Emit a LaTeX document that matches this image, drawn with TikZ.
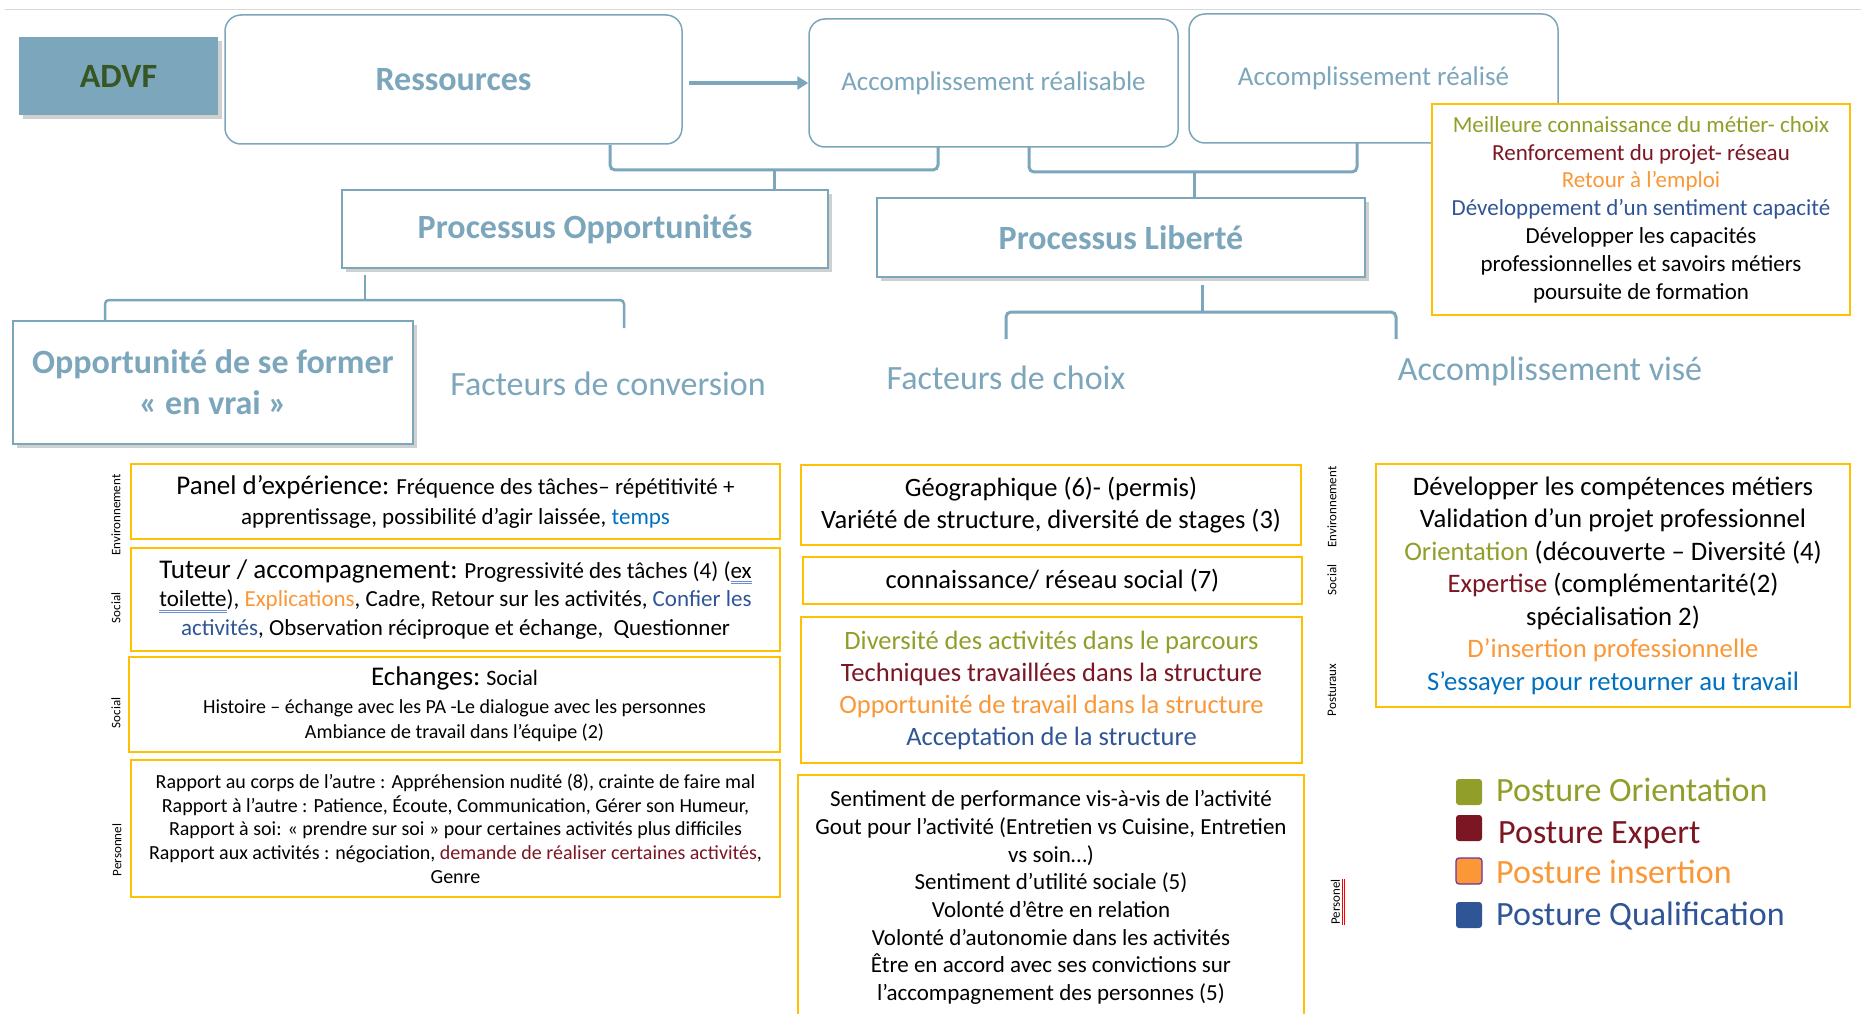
\documentclass[tikz,border=0pt]{standalone}
\usepackage{fontspec}
\setmainfont{Carlito}
\usetikzlibrary{arrows.meta,shadows,calc}
\definecolor{steel}{RGB}{124,166,187}
\definecolor{advfgreen}{RGB}{55,86,35}
\definecolor{gold}{RGB}{255,192,0}
\definecolor{olivec}{RGB}{146,158,42}
\definecolor{dredc}{RGB}{123,22,34}
\definecolor{orangec}{RGB}{250,152,56}
\definecolor{dbluec}{RGB}{47,85,151}
\definecolor{bbluec}{RGB}{0,112,192}
\definecolor{purplec}{RGB}{112,48,160}
\definecolor{splblue}{RGB}{110,140,210}
\definecolor{topline}{RGB}{215,215,215}
\newcommand\fs[2]{\fontsize{#1}{#2}\selectfont}
\newcommand\spl[2][splblue]{\setbox0\hbox{#2}\rlap{\textcolor{#1}{\rule[-3.5pt]{\wd0}{0.8pt}\llap{\rule[-5.5pt]{\wd0}{0.8pt}}}}\box0}
\begin{document}
\begin{tikzpicture}[x=1pt,y=-1pt,
  rbox/.style={draw=steel,line width=1.5,rounded corners=16,inner sep=0},
  sbox/.style={draw=steel,line width=1.5,fill=white,inner sep=0,
    drop shadow={shadow xshift=4pt,shadow yshift=-4pt,opacity=0.3,fill=black!60}},
  ybox/.style={draw=gold,line width=2,fill=white,inner sep=0,align=center},
  brk/.style={draw=steel,line width=3,rounded corners=5},
  brkthin/.style={draw=steel,line width=2.5,rounded corners=4},
  side/.style={rotate=90,font=\fs{13}{15},inner sep=0},
  head/.style={text=steel,font=\fs{34}{40},inner sep=0},
  lsq/.style={minimum size=26,rounded corners=3,inner sep=0},
  ltxt/.style={anchor=base west,font=\fs{34}{40},inner sep=0}]
\useasboundingbox (0,0) rectangle (1861,1014);
\clip (0,0) rectangle (1861,1014);
\fill[white] (0,0) rectangle (1861,1014);
% top line
\coordinate (tla) at (5,9.5);
\coordinate (tlb) at (1861,9.5);
\draw[topline,line width=1.5] (tla) -- (tlb);

% top row
\node[sbox,fill=steel,draw=none,minimum width=199,minimum height=78,
      text=advfgreen,font=\bfseries\fs{34}{40}] (advf) at (118.5,76) {ADVF};
\node[rbox,minimum width=457,minimum height=129,text=steel,
      font=\bfseries\fs{34}{40}] (res) at (453.5,79.5) {Ressources};
\node[rbox,minimum width=369,minimum height=128,text=steel,
      font=\fs{27}{32}] (accR) at (993.5,83) {Accomplissement réalisable};
\node[rbox,minimum width=369,minimum height=129,text=steel,
      font=\fs{27}{32}] (accD) at (1373.5,78.5) {Accomplissement réalisé};
\node[ybox,minimum width=418,minimum height=211,font=\fs{23}{27.8}] (tr) at (1641,209.5)
 {\textcolor{olivec}{Meilleure connaissance du métier- choix}\\\textcolor{dredc}{Renforcement du projet- réseau}\\\textcolor{orangec}{Retour à l’emploi}\\\textcolor{dbluec}{Développement d’un sentiment capacité}\\Développer les capacités\\professionnelles et savoirs métiers\\poursuite de formation};

% arrow
\coordinate (arS) at ($(res.east |- accR.west)+(6,0)$);
\draw[steel,line width=3.5,-{Triangle[length=11pt,width=13pt]}] (arS) -- (accR.west);

% process boxes
\node[sbox,minimum width=486,minimum height=78,text=steel,
      font=\bfseries\fs{34}{40}] (procO) at (585,229) {Processus Opportunités};
\node[sbox,minimum width=488,minimum height=79,text=steel,
      font=\bfseries\fs{34}{40}] (procL) at (1121,237.5) {Processus Liberté};

% brackets
\coordinate (b1l) at (610,145);
\coordinate (b1m) at (774,170);
\coordinate (b1r) at (938,147);
\draw[brk] (b1l) |- (b1m) -| (b1r);
\draw[brk] (b1m) -- (b1m |- procO.north);

\coordinate (b2l) at (1029,147);
\coordinate (b2m) at (1194,172);
\coordinate (b2r) at (1357,143);
\draw[brk] (b2l) |- (b2m) -| (b2r);
\draw[brk] (b2m) -- (b2m |- procL.north);

\coordinate (b3t) at (1202,285);
\coordinate (b3m) at (1202,312);
\coordinate (b3l) at (1006,339);
\coordinate (b3r) at (1396,339);
\draw[brk] (b3l) |- (b3m) -| (b3r);
\draw[brk] (b3t) -- (b3m);

\coordinate (b4t) at (365,275);
\coordinate (b4m) at (365,300);
\coordinate (b4r) at (624,328);

% second level
\node[sbox,minimum width=400,minimum height=123,align=center,text=steel,
      font=\bfseries\fs{34}{41}] (opp) at (213,382.5) {Opportunité de se former\\« en vrai »};
\draw[brkthin] (opp.north -| 105,0) |- (b4m) -| (b4r);
\draw[brkthin] (b4t) -- (b4m);

\node[head] (fconv) at (608,384) {Facteurs de conversion};
\node[head] (fchoix) at (1006,378) {Facteurs de choix};
\node[head] (avise) at (1550,371) {Accomplissement visé};

% side labels
\node[side] (sl1) at (116,515) {Environnement};
\node[side] (sl2) at (116,608) {Social};
\node[side] (sl3) at (116,713) {Social};
\node[side] (sl4) at (117,850) {Personnel};
\node[side] (sl5) at (1332,507) {Environnement};
\node[side] (sl6) at (1332,580) {Social};
\node[side] (sl7) at (1332,690) {Posturaux};
\node[side] (sl8) at (1338,902) {\spl[red]{Personel}};

% left column
\node[ybox,minimum width=649,minimum height=75,font=\fs{23}{30}] (panel) at (455.5,501.5)
 {{\fs{27}{30}Panel d’expérience:} Fréquence des tâches– répétitivité +\\apprentissage, possibilité d’agir laissée, \textcolor{bbluec}{temps}};
\node[ybox,minimum width=649,minimum height=103,font=\fs{23}{28.5}] (tut) at (455.5,599.5)
 {{\fs{27}{30}Tuteur / accompagnement:} Progressivité des tâches (4) (\spl{ex}\\\spl{toilette}), \textcolor{orangec}{Explications}, Cadre, Retour sur les activités, \textcolor{dbluec}{Confier les}\\\textcolor{dbluec}{activités}, Observation réciproque et échange,~ Questionner};
\node[ybox,minimum width=651,minimum height=95,font=\fs{20}{25}] (ech) at (454.5,704)
 {{\fs{27}{30}Echanges:} {\fs{22}{25}Social}\\[3pt]Histoire – échange avec les PA -Le dialogue avec les personnes\\Ambiance de travail dans l’équipe (2)};
\node[ybox,minimum width=649,minimum height=137,font=\fs{20}{23.75}] (rap) at (455.5,828.5)
 {Rapport au corps de l’autre : Appréhension nudité (8), crainte de faire mal\\Rapport à l’autre : Patience, Écoute, Communication, Gérer son Humeur,\\Rapport à soi: « prendre sur soi » pour certaines activités plus difficiles\\Rapport aux activités : négociation, \textcolor{dredc}{demande de réaliser certaines activités},\\Genre};

% middle column
\node[ybox,minimum width=500,minimum height=80,font=\fs{26.5}{32}] (geo) at (1051,505)
 {Géographique (6)- (permis)\\Variété de structure, diversité de stages (3)};
\node[ybox,minimum width=499,minimum height=47,font=\fs{26.5}{32}] (con) at (1052.5,580.5)
 {connaissance/ réseau social (7)};
\node[ybox,minimum width=501,minimum height=146,font=\fs{26.5}{32}] (div) at (1051.5,690)
 {\textcolor{olivec}{Diversité des activités dans le parcours}\\\textcolor{dredc}{Techniques travaillées dans la structure}\\\textcolor{orangec}{Opportunité de travail dans la structure}\\\textcolor{dbluec}{Acceptation de la structure}};
\node[ybox,minimum width=506,minimum height=245,font=\fs{23}{27.7}] (sen) at (1051,897.5)
 {Sentiment de performance vis-à-vis de l’activité\\Gout pour l’activité (Entretien vs Cuisine, Entretien\\vs soin…)\\Sentiment d’utilité sociale (5)\\Volonté d’être en relation\\Volonté d’autonomie dans les activités\\Être en accord avec ses convictions sur\\l’accompagnement des personnes (5)};

% right column
\node[ybox,minimum width=474,minimum height=243,font=\fs{26.7}{32.5}] (av) at (1613,585.5)
 {Développer les compétences métiers\\Validation d’un projet professionnel\\\textcolor{olivec}{Orientation} (découverte – Diversité (4)\\\textcolor{dredc}{Expertise} (complémentarité(2)\\spécialisation 2)\\\textcolor{orangec}{D’insertion professionnelle}\\\textcolor{bbluec}{S’essayer pour retourner au travail}};

% legend
\node[lsq,fill=olivec] (lq1) at (1469,792) {};
\node[lsq,fill=dredc] (lq2) at (1469,828) {};
\node[lsq,fill=orangec,draw=purplec,line width=1.2] (lq3) at (1469,871) {};
\node[lsq,fill=dbluec] (lq4) at (1469,915) {};
\node[ltxt,text=olivec] (lt1) at (1496,801) {Posture Orientation};
\node[ltxt,text=dredc] (lt2) at (1498,843) {Posture Expert};
\node[ltxt,text=orangec] (lt3) at (1496,883) {Posture insertion};
\node[ltxt,text=dbluec] (lt4) at (1496,925) {Posture Qualification};
\end{tikzpicture}
\end{document}
